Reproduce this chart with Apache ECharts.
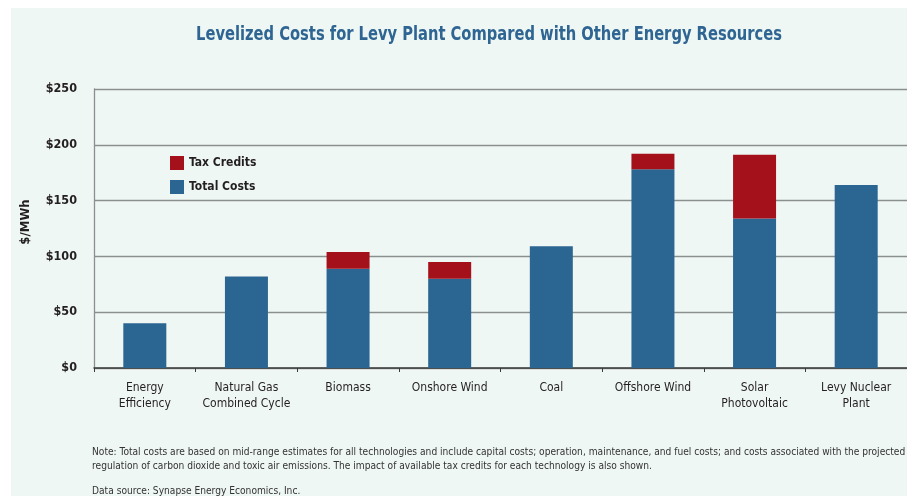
<!DOCTYPE html>
<html>
<head>
<meta charset="utf-8">
<script src="https://cdn.jsdelivr.net/npm/echarts@6/dist/echarts.min.js"></script>
<style>
  html, body { margin: 0; padding: 0; background: #ffffff; width: 907px; height: 496px; overflow: hidden; }
  #chart { position: absolute; left: 11px; top: 8px; width: 896px; height: 488px; }
</style>
</head>
<body>
<div id="chart"></div>
<script>
const categories = ['Energy\nEfficiency', 'Natural Gas\nCombined Cycle', 'Biomass', 'Onshore Wind', 'Coal', 'Offshore Wind', 'Solar\nPhotovoltaic', 'Levy Nuclear\nPlant'];
const totalCosts = [40, 82, 89, 80, 109, 178, 134, 164];
const taxCredits = [0, 0, 15, 15, 0, 14, 57, 0];
const yTicks = [0, 50, 100, 150, 200, 250];
const titleText = 'Levelized Costs for Levy Plant Compared with Other Energy Resources';
const yAxisTitle = '$/MWh';
const noteLines = [
  'Note: Total costs are based on mid-range estimates for all technologies and include capital costs; operation, maintenance, and fuel costs; and costs associated with the projected',
  'regulation of carbon dioxide and toxic air emissions. The impact of available tax credits for each technology is also shown.'
];
const sourceText = 'Data source: Synapse Energy Economics, Inc.';

const NARROW = "'Liberation Sans Narrow', 'DejaVu Sans Condensed', sans-serif";
const BLUE = '#2b6591';
const RED = '#a5111b';
const TEXT = '#231f20';

const chart = echarts.init(document.getElementById('chart'), null, { renderer: 'canvas' });
chart.setOption({
  animation: false,
  backgroundColor: '#eff7f4',
  grid: { left: 83, right: -1, top: 81, bottom: 128, containLabel: false },
  legend: {
    orient: 'vertical',
    left: 159,
    top: 148,
    padding: 0,
    itemWidth: 14,
    itemHeight: 14,
    itemGap: 10,
    icon: 'rect',
    data: ['Tax Credits', 'Total Costs'],
    textStyle: { fontFamily: NARROW, fontWeight: 'bold', fontSize: 12, color: TEXT }
  },
  xAxis: {
    type: 'category',
    data: categories,
    axisLine: { show: true, lineStyle: { color: '#3a3a3a', width: 1.5 } },
    axisTick: { show: true, length: 4, lineStyle: { color: '#3a3a3a', width: 1 } },
    axisLabel: { margin: 12, fontFamily: NARROW, fontSize: 12, lineHeight: 16, color: TEXT, interval: 0 },
    splitLine: { show: false }
  },
  yAxis: {
    type: 'value',
    min: yTicks[0],
    max: yTicks[yTicks.length - 1],
    interval: 50,
    axisLine: { show: true, lineStyle: { color: '#8a8f8f', width: 1.3 } },
    axisTick: { show: false },
    axisLabel: { margin: 17, fontFamily: NARROW, fontWeight: 'bold', fontSize: 12.5, color: TEXT, formatter: v => '$' + v },
    splitLine: { show: true, lineStyle: { color: '#8a8f8f', width: 1.3 } }
  },
  series: [
    { name: 'Total Costs', type: 'bar', stack: 'cost', data: totalCosts, barWidth: 43, itemStyle: { color: BLUE } },
    { name: 'Tax Credits', type: 'bar', stack: 'cost', data: taxCredits, barWidth: 43, itemStyle: { color: RED } }
  ],
  graphic: [
    { type: 'text', x: 478, y: 27, scaleX: 0.86, style: { text: titleText, fill: '#2e6592', font: 'bold 19px ' + NARROW, textAlign: 'center', textVerticalAlign: 'middle' } },
    { type: 'text', x: 15, y: 214, rotation: Math.PI / 2, style: { text: yAxisTitle, fill: TEXT, font: 'bold 13px ' + NARROW, textAlign: 'center', textVerticalAlign: 'middle' } },
    { type: 'text', x: 81, y: 444, scaleX: 0.965, style: { text: noteLines[0], fill: '#333333', font: '10.5px ' + NARROW, textAlign: 'left', textVerticalAlign: 'middle' } },
    { type: 'text', x: 81, y: 458, scaleX: 0.965, style: { text: noteLines[1], fill: '#333333', font: '10.5px ' + NARROW, textAlign: 'left', textVerticalAlign: 'middle' } },
    { type: 'text', x: 81, y: 483, scaleX: 0.965, style: { text: sourceText, fill: '#333333', font: '10.5px ' + NARROW, textAlign: 'left', textVerticalAlign: 'middle' } }
  ]
});
</script>
</body>
</html>
